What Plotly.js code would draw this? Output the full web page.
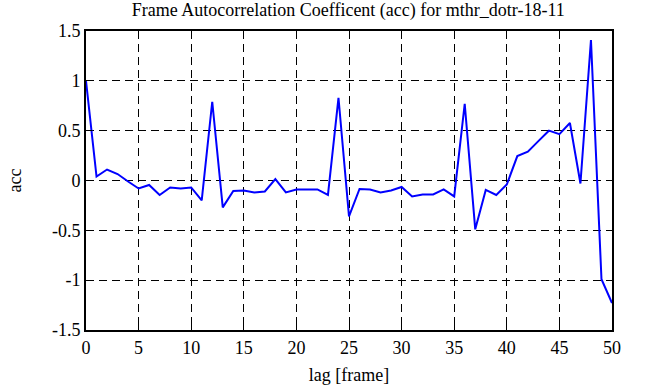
<!DOCTYPE html>
<html><head><meta charset="utf-8">
<script src="https://cdn.plot.ly/plotly-3.0.1.min.js"></script>
<style>html,body{margin:0;padding:0;background:#fff}</style>
</head><body><div id="chart" style="width:651px;height:387px"></div>
<script>
const lags = Array.from({length:51},(_,i)=>i);
const acc = [1.0,0.04,0.11,0.065,-0.01,-0.08,-0.045,-0.145,-0.07,-0.08,-0.07,-0.2,0.79,-0.27,-0.105,-0.1,-0.12,
 -0.11,0.015,-0.12,-0.09,-0.09,-0.09,-0.145,0.83,-0.36,-0.085,-0.09,-0.12,-0.1,-0.065,-0.16,-0.14,
 -0.14,-0.09,-0.16,0.77,-0.49,-0.095,-0.145,-0.04,0.245,0.29,0.395,0.5,0.465,0.577,-0.03,1.41,-0.99,-1.23];
const xTicks = [0,5,10,15,20,25,30,35,40,45,50];
const yTicks = [-1.5,-1,-0.5,0,0.5,1,1.5];
const yTickText = ['-1.5','-1','-0.5','0','0.5','1','1.5'];
const font = {family:'Liberation Serif, Times New Roman, serif', size:18, color:'#000'};
const ax = {showline:true, linecolor:'#000', linewidth:2, mirror:'ticks', ticks:'inside', ticklen:6, tickcolor:'#000', tickwidth:1,
  showgrid:true, gridcolor:'#000', griddash:'8px,5px', gridwidth:1, zeroline:false, tickfont:font};
Plotly.newPlot('chart',[{x:lags,y:acc,type:'scatter',mode:'lines',line:{color:'#0000ff',width:2}}],{
  width:651,height:387,margin:{l:86,r:39,t:31,b:57},paper_bgcolor:'#fff',plot_bgcolor:'#fff',showlegend:false,
  title:{text:'Frame Autocorrelation Coefficent (acc) for mthr_dotr-18-11',font:{...font,size:18},x:0.535,xanchor:'center',y:0.99,yanchor:'top'},
  xaxis:{...ax,range:[0,50],tickvals:xTicks,title:{text:'lag [frame]',font:font,standoff:12}},
  yaxis:{...ax,range:[-1.5,1.5],tickvals:yTicks,ticktext:yTickText,title:{text:'acc',font:font,standoff:26}}
},{displayModeBar:false,staticPlot:true});
</script></body></html>
